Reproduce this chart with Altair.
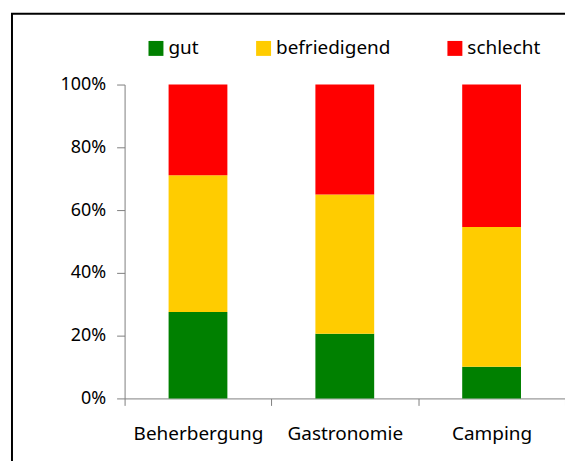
import altair as alt
import pandas as pd

categories = ["Beherbergung", "Gastronomie", "Camping"]
ratings = ["gut", "befriedigend", "schlecht"]
colors = ["#008000", "#FFCC00", "#FF0000"]
gut = [27.5, 20.6, 10.1]
befriedigend = [43.6, 44.4, 44.5]
schlecht = [28.9, 35.0, 45.4]
y_ticks = [0, 0.2, 0.4, 0.6, 0.8, 1.0]

rows = []
for i, c in enumerate(categories):
    for r, (name, vals) in enumerate(zip(ratings, [gut, befriedigend, schlecht])):
        rows.append({"Bereich": c, "Bewertung": name, "Anteil": vals[i], "rang": r})
df = pd.DataFrame(rows)

FONT = "Noto Sans"

bars = alt.Chart(df).mark_bar(size=59).encode(
    x=alt.X(
        "Bereich:N",
        sort=categories,
        scale=alt.Scale(paddingInner=0, paddingOuter=0),
        axis=alt.Axis(
            title=None,
            labelAngle=0,
            tickBand="extent",
            tickSize=7,
            tickColor="#808080",
            domainColor="#808080",
            labelFont=FONT,
            labelFontSize=19,
            labelColor="#000000",
            labelPadding=19,
        ),
    ),
    y=alt.Y(
        "Anteil:Q",
        stack="normalize",
        scale=alt.Scale(domain=[0, 1]),
        axis=alt.Axis(
            title=None,
            format=".0%",
            values=y_ticks,
            grid=False,
            tickSize=8,
            tickColor="#808080",
            domainColor="#808080",
            labelFont=FONT,
            labelFontSize=18,
            labelColor="#000000",
            labelPadding=11,
        ),
    ),
    color=alt.Color(
        "Bewertung:N",
        sort=ratings,
        scale=alt.Scale(domain=ratings, range=colors),
        legend=alt.Legend(
            title=None,
            orient="none",
            direction="horizontal",
            legendX=22,
            legendY=-46,
            symbolType="square",
            symbolSize=225,
            symbolStrokeWidth=0,
            symbolOpacity=1,
            labelFont=FONT,
            labelFontSize=19,
            labelColor="#000000",
            labelOffset=3,
            columnPadding=55,
        ),
    ),
    order=alt.Order("rang:Q"),
)

frame_df = pd.DataFrame({"a": [0]})
left_line = alt.Chart(frame_df).mark_rule(color="black", strokeWidth=2).encode(
    x=alt.value(-113), y=alt.value(-71), y2=alt.value(400)
)
top_line = alt.Chart(frame_df).mark_rule(color="black", strokeWidth=2).encode(
    x=alt.value(-114), x2=alt.value(460), y=alt.value(-71)
)

chart = alt.layer(bars, left_line, top_line).properties(
    width=442,
    height=315,
    autosize=alt.AutoSizeParams(type="none"),
    padding={"left": 117, "top": 76, "right": 0, "bottom": 62},
).configure_view(stroke=None)

chart.save("out.html", embed_options={"renderer": "svg", "actions": False})
